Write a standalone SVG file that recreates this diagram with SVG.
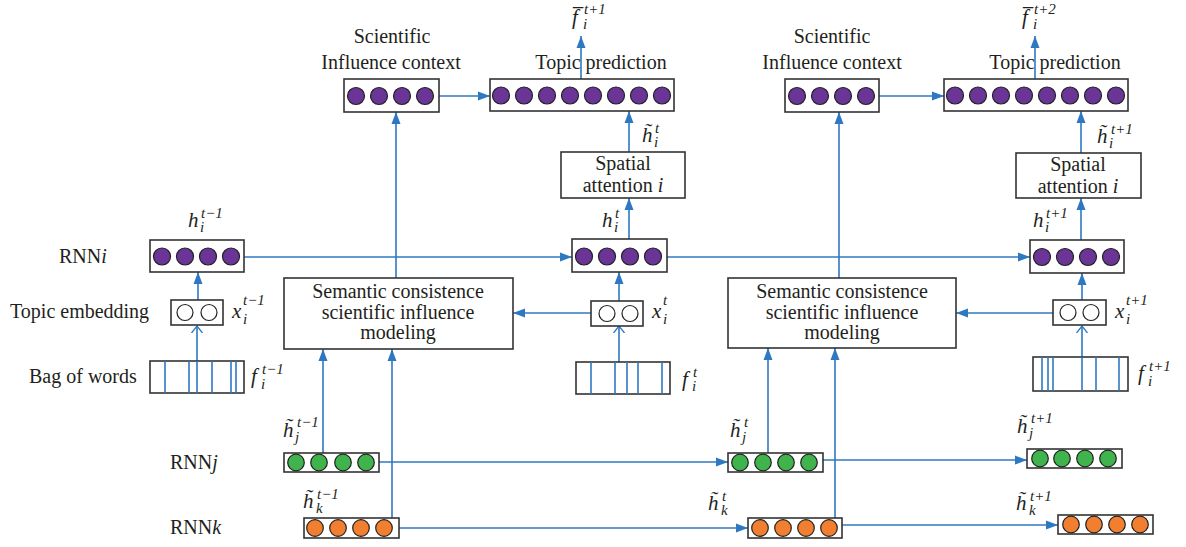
<svg xmlns="http://www.w3.org/2000/svg" width="1186" height="547" viewBox="0 0 1186 547" font-family="Liberation Serif, Times New Roman, Tinos, serif">
<defs>
<marker id="arr" markerUnits="userSpaceOnUse" markerWidth="12" markerHeight="10" refX="12" refY="5" orient="auto">
<path d="M0,0.5 L12,5 L0,9.5 z" fill="#2e78c2"/>
</marker>
<marker id="open" markerUnits="userSpaceOnUse" markerWidth="10" markerHeight="12" refX="7" refY="6" orient="auto">
<path d="M0,0.5 L7,6 L0,11.5" fill="none" stroke="#2e78c2" stroke-width="1.3"/>
</marker>
</defs>
<style>
.box{fill:#fff;stroke:#333;stroke-width:1.6}
.pu{fill:#6b3597;stroke:#222;stroke-width:1.2}
.gr{fill:#3fb44c;stroke:#222;stroke-width:1.2}
.or{fill:#f27e2f;stroke:#222;stroke-width:1.2}
.wh{fill:#fff;stroke:#222;stroke-width:1.2}
.c{stroke:#2e78c2;stroke-width:1.6;fill:none;marker-end:url(#arr)}
.co{stroke:#2e78c2;stroke-width:1.6;fill:none;marker-end:url(#open)}
.bl{stroke:#2e78c2;stroke-width:1.6}
.t{font-size:20px;fill:#231f20}
.m{font-size:21px;font-style:italic;fill:#231f20}
.s{font-size:15px;font-style:italic;fill:#231f20}
</style>

<g id="connectors">
<line class="c" x1="439" y1="96" x2="490" y2="96"/>
<line class="c" x1="581" y1="79" x2="581" y2="36"/>
<line class="c" x1="629" y1="152" x2="629" y2="111"/>
<line class="c" x1="629" y1="239" x2="629" y2="198"/>
<line class="c" x1="244" y1="257" x2="572" y2="257"/>
<line class="c" x1="667" y1="257" x2="1030" y2="257"/>
<line class="c" x1="1081" y1="240" x2="1081" y2="198"/>
<line class="c" x1="1081" y1="153" x2="1081" y2="111"/>
<line class="c" x1="879" y1="96" x2="944" y2="96"/>
<line class="c" x1="1035" y1="79" x2="1035" y2="36"/>
<line class="c" x1="198" y1="300" x2="198" y2="272"/>
<line class="co" x1="197" y1="361" x2="197" y2="326"/>
<line class="c" x1="619" y1="301" x2="619" y2="272"/>
<line class="co" x1="619" y1="362" x2="619" y2="326"/>
<line class="c" x1="1082" y1="300" x2="1082" y2="273"/>
<line class="co" x1="1082" y1="357" x2="1082" y2="326"/>
<line class="c" x1="591" y1="313" x2="513" y2="313"/>
<line class="c" x1="1053" y1="313" x2="956" y2="313"/>
<line class="c" x1="396" y1="278" x2="396" y2="112"/>
<line class="c" x1="839" y1="278" x2="839" y2="112"/>
<line class="c" x1="323" y1="453" x2="323" y2="349"/>
<line class="c" x1="392" y1="518" x2="392" y2="349"/>
<line class="c" x1="768" y1="453" x2="768" y2="348"/>
<line class="c" x1="835" y1="518" x2="835" y2="348"/>
<line class="c" x1="379" y1="462" x2="728" y2="462"/>
<line class="c" x1="823" y1="460" x2="1027" y2="460"/>
<line class="c" x1="398" y1="528" x2="748" y2="528"/>
<line class="c" x1="842" y1="525" x2="1058" y2="525"/>
</g>

<g id="sic-left">
<rect class="box" x="344" y="79" width="95" height="33"/>
<circle class="pu" cx="356" cy="96" r="8.5"/><circle class="pu" cx="379" cy="96" r="8.5"/><circle class="pu" cx="402" cy="96" r="8.5"/><circle class="pu" cx="425" cy="96" r="8.5"/>
<text class="t" x="392" y="43" text-anchor="middle">Scientific</text>
<text class="t" x="391" y="69" text-anchor="middle">Influence context</text>
</g>

<g id="topic-left">
<rect class="box" x="490" y="79" width="184" height="32"/>
<circle class="pu" cx="501" cy="95.5" r="8.5"/><circle class="pu" cx="524" cy="95.5" r="8.5"/><circle class="pu" cx="547" cy="95.5" r="8.5"/><circle class="pu" cx="570" cy="95.5" r="8.5"/><circle class="pu" cx="593" cy="95.5" r="8.5"/><circle class="pu" cx="616" cy="95.5" r="8.5"/><circle class="pu" cx="639" cy="95.5" r="8.5"/><circle class="pu" cx="662" cy="95.5" r="8.5"/>
<text class="t" x="601" y="69" text-anchor="middle">Topic prediction</text>
</g>

<g id="spatial-left">
<rect class="box" x="561" y="152" width="124" height="46"/>
<text class="t" x="623" y="170" text-anchor="middle">Spatial</text>
<text class="t" x="623" y="192" text-anchor="middle">attention <tspan font-style="italic">i</tspan></text>
</g>

<g id="rnni-left">
<rect class="box" x="150" y="240" width="94" height="32"/>
<circle class="pu" cx="162" cy="256.5" r="8.5"/><circle class="pu" cx="185" cy="256.5" r="8.5"/><circle class="pu" cx="208" cy="256.5" r="8.5"/><circle class="pu" cx="231" cy="256.5" r="8.5"/>
</g>

<g id="rnni-mid">
<rect class="box" x="572" y="239" width="95" height="33"/>
<circle class="pu" cx="584" cy="256.5" r="8.5"/><circle class="pu" cx="607" cy="256.5" r="8.5"/><circle class="pu" cx="630" cy="256.5" r="8.5"/><circle class="pu" cx="653" cy="256.5" r="8.5"/>
</g>

<g id="rnni-right">
<rect class="box" x="1030" y="240" width="94" height="33"/>
<circle class="pu" cx="1042" cy="257" r="8.5"/><circle class="pu" cx="1065" cy="257" r="8.5"/><circle class="pu" cx="1088" cy="257" r="8.5"/><circle class="pu" cx="1111" cy="257" r="8.5"/>
</g>

<g id="sic-right">
<rect class="box" x="785" y="79" width="94" height="33"/>
<circle class="pu" cx="797" cy="96" r="8.5"/><circle class="pu" cx="820" cy="96" r="8.5"/><circle class="pu" cx="843" cy="96" r="8.5"/><circle class="pu" cx="866" cy="96" r="8.5"/>
<text class="t" x="832" y="43" text-anchor="middle">Scientific</text>
<text class="t" x="832" y="69" text-anchor="middle">Influence context</text>
</g>

<g id="topic-right">
<rect class="box" x="944" y="79" width="184" height="32"/>
<circle class="pu" cx="955" cy="95.5" r="8.5"/><circle class="pu" cx="978" cy="95.5" r="8.5"/><circle class="pu" cx="1001" cy="95.5" r="8.5"/><circle class="pu" cx="1024" cy="95.5" r="8.5"/><circle class="pu" cx="1047" cy="95.5" r="8.5"/><circle class="pu" cx="1070" cy="95.5" r="8.5"/><circle class="pu" cx="1093" cy="95.5" r="8.5"/><circle class="pu" cx="1116" cy="95.5" r="8.5"/>
<text class="t" x="1055" y="69" text-anchor="middle">Topic prediction</text>
</g>

<g id="spatial-right">
<rect class="box" x="1016" y="153" width="125" height="45"/>
<text class="t" x="1078" y="171" text-anchor="middle">Spatial</text>
<text class="t" x="1078" y="193" text-anchor="middle">attention <tspan font-style="italic">i</tspan></text>
</g>

<g id="semantic-left">
<rect class="box" x="284" y="278" width="229" height="71"/>
<text class="t" x="398" y="298" text-anchor="middle">Semantic consistence</text>
<text class="t" x="398" y="319" text-anchor="middle">scientific influence</text>
<text class="t" x="398" y="339" text-anchor="middle">modeling</text>
</g>

<g id="semantic-right">
<rect class="box" x="728" y="278" width="228" height="70"/>
<text class="t" x="842" y="298" text-anchor="middle">Semantic consistence</text>
<text class="t" x="842" y="319" text-anchor="middle">scientific influence</text>
<text class="t" x="842" y="339" text-anchor="middle">modeling</text>
</g>

<g id="emb-left">
<rect class="box" x="171" y="300" width="52" height="25"/>
<circle class="wh" cx="185" cy="312.5" r="8"/><circle class="wh" cx="209" cy="312.5" r="8"/>
</g>
<g id="emb-mid">
<rect class="box" x="591" y="301" width="52" height="25"/>
<circle class="wh" cx="607" cy="313.5" r="8"/><circle class="wh" cx="630" cy="313.5" r="8"/>
</g>
<g id="emb-right">
<rect class="box" x="1053" y="300" width="53" height="25"/>
<circle class="wh" cx="1068" cy="312.5" r="8"/><circle class="wh" cx="1091" cy="312.5" r="8"/>
</g>

<g id="bow-left">
<rect class="box" x="150" y="361" width="94" height="32"/>
<line class="bl" x1="165" y1="361" x2="165" y2="393"/><line class="bl" x1="189" y1="361" x2="189" y2="393"/><line class="bl" x1="197" y1="361" x2="197" y2="393"/><line class="bl" x1="212" y1="361" x2="212" y2="393"/><line class="bl" x1="231" y1="361" x2="231" y2="393"/><line class="bl" x1="236" y1="361" x2="236" y2="393"/>
</g>
<g id="bow-mid">
<rect class="box" x="576" y="362" width="94" height="32"/>
<line class="bl" x1="591" y1="362" x2="591" y2="394"/><line class="bl" x1="615" y1="362" x2="615" y2="394"/><line class="bl" x1="627" y1="362" x2="627" y2="394"/><line class="bl" x1="638" y1="362" x2="638" y2="394"/><line class="bl" x1="662" y1="362" x2="662" y2="394"/>
</g>
<g id="bow-right">
<rect class="box" x="1033" y="357" width="95" height="34"/>
<line class="bl" x1="1042" y1="357" x2="1042" y2="391"/><line class="bl" x1="1048" y1="357" x2="1048" y2="391"/><line class="bl" x1="1053" y1="357" x2="1053" y2="391"/><line class="bl" x1="1082" y1="357" x2="1082" y2="391"/><line class="bl" x1="1096" y1="357" x2="1096" y2="391"/><line class="bl" x1="1119" y1="357" x2="1119" y2="391"/>
</g>

<g id="rnnj-left">
<rect class="box" x="284" y="453" width="95" height="19"/>
<circle class="gr" cx="296" cy="462.5" r="8.3"/><circle class="gr" cx="319" cy="462.5" r="8.3"/><circle class="gr" cx="343" cy="462.5" r="8.3"/><circle class="gr" cx="366" cy="462.5" r="8.3"/>
</g>
<g id="rnnj-mid">
<rect class="box" x="728" y="453" width="95" height="19"/>
<circle class="gr" cx="740" cy="462.5" r="8.3"/><circle class="gr" cx="763" cy="462.5" r="8.3"/><circle class="gr" cx="786" cy="462.5" r="8.3"/><circle class="gr" cx="809" cy="462.5" r="8.3"/>
</g>
<g id="rnnj-right">
<rect class="box" x="1027" y="449" width="95" height="19"/>
<circle class="gr" cx="1040" cy="458.5" r="8.3"/><circle class="gr" cx="1062" cy="458.5" r="8.3"/><circle class="gr" cx="1085" cy="458.5" r="8.3"/><circle class="gr" cx="1108" cy="458.5" r="8.3"/>
</g>

<g id="rnnk-left">
<rect class="box" x="304" y="518" width="95" height="20"/>
<circle class="or" cx="315" cy="528" r="8.3"/><circle class="or" cx="338" cy="528" r="8.3"/><circle class="or" cx="361" cy="528" r="8.3"/><circle class="or" cx="384" cy="528" r="8.3"/>
</g>
<g id="rnnk-mid">
<rect class="box" x="748" y="518" width="94" height="20"/>
<circle class="or" cx="760" cy="528" r="8.3"/><circle class="or" cx="783" cy="528" r="8.3"/><circle class="or" cx="806" cy="528" r="8.3"/><circle class="or" cx="829" cy="528" r="8.3"/>
</g>
<g id="rnnk-right">
<rect class="box" x="1058" y="515" width="95" height="19"/>
<circle class="or" cx="1071" cy="524.5" r="8.3"/><circle class="or" cx="1094" cy="524.5" r="8.3"/><circle class="or" cx="1117" cy="524.5" r="8.3"/><circle class="or" cx="1140" cy="524.5" r="8.3"/>
</g>

<g id="row-labels">
<text class="t" x="59" y="263">RNN<tspan font-style="italic">i</tspan></text>
<text class="t" x="10" y="318">Topic embedding</text>
<text class="t" x="29" y="383">Bag of words</text>
<text class="t" x="170" y="469">RNN<tspan font-style="italic">j</tspan></text>
<text class="t" x="170" y="534">RNN<tspan font-style="italic">k</tspan></text>
</g>

<g id="math-labels">
<text class="m" x="572" y="24">f&#x305;</text><text class="s" x="584" y="14">t+1</text><text class="s" x="583" y="29">i</text>
<text class="m" x="1022" y="24">f&#x305;</text><text class="s" x="1034" y="14">t+2</text><text class="s" x="1033" y="29">i</text>
<text class="m" x="642" y="142">h&#x303;</text><text class="s" x="655" y="133">t</text><text class="s" x="654" y="147">i</text>
<text class="m" x="1097" y="143">h&#x303;</text><text class="s" x="1111" y="134">t+1</text><text class="s" x="1109" y="148">i</text>
<text class="m" x="602" y="227">h</text><text class="s" x="615" y="218">t</text><text class="s" x="614" y="232">i</text>
<text class="m" x="188" y="227">h</text><text class="s" x="201" y="218">t−1</text><text class="s" x="200" y="232">i</text>
<text class="m" x="1033" y="227">h</text><text class="s" x="1046" y="218">t+1</text><text class="s" x="1045" y="232">i</text>
<text class="m" x="232" y="318">x</text><text class="s" x="243" y="305">t−1</text><text class="s" x="243" y="324">i</text>
<text class="m" x="652" y="318">x</text><text class="s" x="663" y="305">t</text><text class="s" x="663" y="324">i</text>
<text class="m" x="1115" y="318">x</text><text class="s" x="1126" y="305">t+1</text><text class="s" x="1126" y="324">i</text>
<text class="m" x="251" y="383">f</text><text class="s" x="262" y="374">t−1</text><text class="s" x="261" y="389">i</text>
<text class="m" x="682" y="386">f</text><text class="s" x="693" y="377">t</text><text class="s" x="692" y="391">i</text>
<text class="m" x="1138" y="380">f</text><text class="s" x="1149" y="371">t+1</text><text class="s" x="1148" y="386">i</text>
<text class="m" x="283" y="437">h&#x303;</text><text class="s" x="297" y="427">t−1</text><text class="s" x="295" y="442">j</text>
<text class="m" x="303" y="508">h&#x303;</text><text class="s" x="317" y="499">t−1</text><text class="s" x="316" y="513">k</text>
<text class="m" x="730" y="437">h&#x303;</text><text class="s" x="744" y="427">t</text><text class="s" x="742" y="442">j</text>
<text class="m" x="708" y="510">h&#x303;</text><text class="s" x="722" y="501">t</text><text class="s" x="721" y="515">k</text>
<text class="m" x="1017" y="433">h&#x303;</text><text class="s" x="1031" y="423">t+1</text><text class="s" x="1029" y="438">j</text>
<text class="m" x="1016" y="510">h&#x303;</text><text class="s" x="1030" y="501">t+1</text><text class="s" x="1029" y="515">k</text>
</g>
</svg>
